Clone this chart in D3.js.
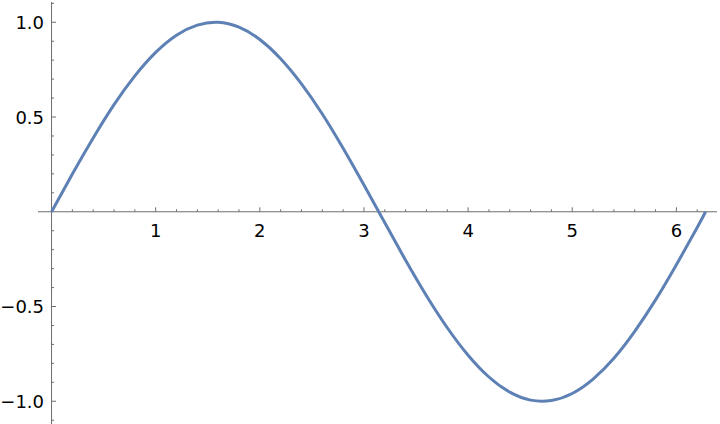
<!DOCTYPE html>
<html>
<head>
<meta charset="utf-8">
<script src="https://cdn.jsdelivr.net/npm/d3@7"></script>
<style>
  body { margin: 0; background: #fff; }
  text { font-family: "DejaVu Sans", sans-serif; font-size: 18px; fill: #000; }
</style>
</head>
<body>
<div id="chart"></div>
<script>
// values
var xs = [0, 0.2, 0.4, 0.6, 0.8, 1.0, 1.2, 1.4, 1.6, 1.8, 2.0, 2.2, 2.4, 2.6, 2.8, 3.0, 3.2,
          3.4, 3.6, 3.8, 4.0, 4.2, 4.4, 4.6, 4.8, 5.0, 5.2, 5.4, 5.6, 5.8, 6.0, 6.2, 6.28];
var ys = [0, 0.199, 0.389, 0.565, 0.717, 0.841, 0.932, 0.985, 1.000, 0.974, 0.909, 0.808, 0.675,
          0.516, 0.335, 0.141, -0.058, -0.256, -0.443, -0.612, -0.757, -0.872, -0.952, -0.994,
          -0.996, -0.959, -0.883, -0.773, -0.631, -0.465, -0.279, -0.083, 0.000];
var xTicks = [1, 2, 3, 4, 5, 6];
var yTicks = [-1.0, -0.5, 0.5, 1.0];

var width = 720, height = 424;

var x = d3.scaleLinear().domain([-0.13, 6.39]).range([38, 717]);
var y = d3.scaleLinear().domain([1.107, -1.12]).range([2, 424]);

var svg = d3.select("#chart").append("svg")
  .attr("width", width)
  .attr("height", height);

var axisColor = "#6e6e6e";

// minor ticks
var xMinor = d3.range(0, 6.4, 0.2).filter(function(v) { return Math.abs(v - Math.round(v)) > 0.01; });
var yMinor = d3.range(-1.1, 1.11, 0.1).filter(function(v) { return Math.abs(v * 2 - Math.round(v * 2)) > 0.01; });

var ax = svg.append("g");

ax.append("line")
  .attr("x1", 38).attr("x2", 717)
  .attr("y1", y(0)).attr("y2", y(0))
  .style("stroke", axisColor).style("stroke-width", 1);

ax.append("line")
  .attr("x1", x(0)).attr("x2", x(0))
  .attr("y1", 2).attr("y2", 424)
  .style("stroke", axisColor).style("stroke-width", 1);

ax.selectAll(".xmin").data(xMinor).enter().append("line")
  .attr("x1", function(d) { return x(d); }).attr("x2", function(d) { return x(d); })
  .attr("y1", y(0)).attr("y2", y(0) - 2.5)
  .style("stroke", axisColor);

ax.selectAll(".xmaj").data(xTicks).enter().append("line")
  .attr("x1", function(d) { return x(d); }).attr("x2", function(d) { return x(d); })
  .attr("y1", y(0)).attr("y2", y(0) - 4.5)
  .style("stroke", axisColor);

ax.selectAll(".ymin").data(yMinor).enter().append("line")
  .attr("x1", x(0)).attr("x2", x(0) + 2.5)
  .attr("y1", function(d) { return y(d); }).attr("y2", function(d) { return y(d); })
  .style("stroke", axisColor);

ax.selectAll(".ymaj").data(yTicks).enter().append("line")
  .attr("x1", x(0)).attr("x2", x(0) + 4.5)
  .attr("y1", function(d) { return y(d); }).attr("y2", function(d) { return y(d); })
  .style("stroke", axisColor);

// tick labels
svg.selectAll(".xl").data(xTicks).enter().append("text")
  .attr("x", function(d) { return x(d); })
  .attr("y", y(0) + 25)
  .attr("text-anchor", "middle")
  .text(function(d) { return d; });

svg.selectAll(".yl").data(yTicks).enter().append("text")
  .attr("x", x(0) - 7.5)
  .attr("y", function(d) { return y(d); })
  .attr("dy", "0.36em")
  .attr("text-anchor", "end")
  .text(function(d) { return d3.format(".1f")(d).replace("-", "\u2212"); });

// the curve
var pts = xs.map(function(v, i) { return [v, ys[i]]; });
var line = d3.line()
  .x(function(d) { return x(d[0]); })
  .y(function(d) { return y(d[1]); })
  .curve(d3.curveNatural);

svg.append("path")
  .datum(pts)
  .attr("d", line)
  .style("fill", "none")
  .style("stroke", "#5e81b5")
  .style("stroke-width", 3);
</script>
</body>
</html>
